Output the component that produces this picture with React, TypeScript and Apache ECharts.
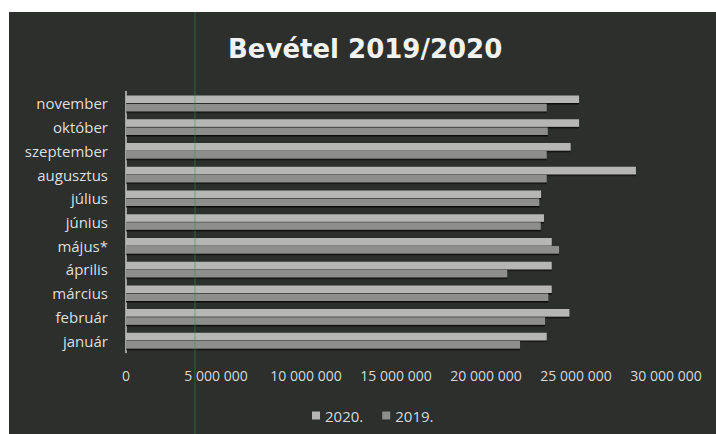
import React, { useEffect, useRef } from "react";
import * as echarts from "echarts";

const categories = ["január", "február", "március", "április", "május*", "június", "július", "augusztus", "szeptember", "október", "november"];
const series2020 = [23370000, 24630000, 23650000, 23650000, 23650000, 23220000, 23060000, 28330000, 24700000, 25170000, 25170000];
const series2019 = [21890000, 23280000, 23460000, 21180000, 24060000, 23040000, 22960000, 23370000, 23370000, 23430000, 23370000];
const seriesNames = ["2020.", "2019."];
const titleText = "Bevétel 2019/2020";

const fmt = (v: number) => String(Math.round(v)).replace(/\B(?=(\d{3})+(?!\d))/g, " ");

export default function App() {
  const ref = useRef<HTMLDivElement>(null);
  useEffect(() => {
    if (!ref.current) return;
    const chart = echarts.init(ref.current, undefined, { renderer: "svg" });
    const shadow = { shadowColor: "rgba(0,0,0,0.75)", shadowOffsetY: 1.5, shadowBlur: 1 };
    chart.setOption({
      animation: false,
      backgroundColor: "#ffffff",
      title: {
        text: titleText,
        left: 223,
        top: 31,
        textStyle: { fontFamily: "DejaVu Sans", fontWeight: "bold", fontSize: 26, color: "#f2f2f2" },
      },
      legend: {
        left: 307,
        top: 403,
        itemWidth: 8,
        itemHeight: 8,
        itemGap: 19,
        icon: "rect",
        textStyle: { fontFamily: "Open Sans", fontSize: 15, color: "#d8d8d8" },
        data: seriesNames,
      },
      grid: { left: 126, right: 50, top: 91.5, bottom: 81.5, containLabel: false },
      xAxis: {
        type: "value",
        min: 0,
        max: 30000000,
        interval: 5000000,
        axisLine: { show: false },
        axisTick: { show: false },
        splitLine: { show: false },
        axisLabel: { formatter: fmt, fontFamily: "Open Sans", fontSize: 14, color: "#d8d8d8", margin: 16 },
      },
      yAxis: {
        type: "category",
        data: categories,
        axisLine: { show: true, lineStyle: { color: "#c8c8c8", width: 1.5 } },
        axisTick: { show: false },
        axisLabel: { fontFamily: "Open Sans", fontSize: 15, color: "#dedede", margin: 18 },
      },
      graphic: [
        { type: "rect", z: -10, shape: { x: 9, y: 12, width: 707, height: 422 }, style: { fill: "#2d2f2d" } },
        { type: "line", z: 100, shape: { x1: 195, y1: 12, x2: 195, y2: 434 }, style: { stroke: "rgba(40,150,80,0.45)", lineWidth: 1.2 } },
      ],
      series: [
        {
          name: seriesNames[0],
          type: "bar",
          data: series2020,
          barWidth: 7.5,
          barGap: "8%",
          itemStyle: { color: "#b6b6b4", ...shadow },
        },
        {
          name: seriesNames[1],
          type: "bar",
          data: series2019,
          barWidth: 7.5,
          barGap: "8%",
          itemStyle: { color: "#8e8e8c", ...shadow },
        },
      ],
    });
    return () => chart.dispose();
  }, []);
  return <div ref={ref} style={{ position: "fixed", left: 0, top: 0, width: 716, height: 434 }} />;
}
